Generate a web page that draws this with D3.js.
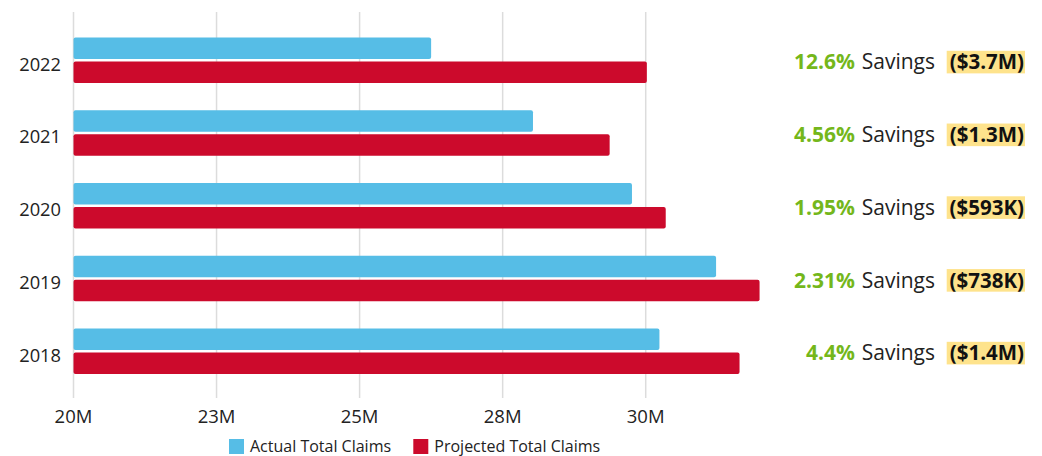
<!DOCTYPE html>
<html><head><meta charset="utf-8">
<script src="https://cdn.jsdelivr.net/npm/d3@7"></script>
<style>
html,body{margin:0;padding:0;background:#fff;}
svg{display:block;font-family:"Open Sans",sans-serif;}
</style></head>
<body><svg id="chart" width="1042" height="456"></svg>
<script>
const years = ["2022","2021","2020","2019","2018"];
const actual = [26.25, 28.03, 29.76, 31.23, 30.24];      // $M
const projected = [30.02, 29.37, 30.35, 31.99, 31.64];   // $M
const savingsPct = ["12.6%","4.56%","1.95%","2.31%","4.4%"];
const savingsAmt = ["($3.7M)","($1.3M)","($593K)","($738K)","($1.4M)"];
const tickValues = [20, 22.5, 25, 27.5, 30];
const tickLabels = ["20M","23M","25M","28M","30M"];
const seriesNames = ["Actual Total Claims","Projected Total Claims"];
const colors = ["#56bde6","#cc0a2c"];

const svg = d3.select("#chart");
const x = d3.scaleLinear().domain([20, 30]).range([73.5, 645.7]);
const y = d3.scaleBand().domain(years).range([23.9, 387.7]).paddingInner(0.375).paddingOuter(0.1875);
const sub = d3.scaleBand().domain([0,1]).range([0, y.bandwidth()]).paddingInner(0.1);

// gridlines
svg.append("g").selectAll("line").data(tickValues).join("line")
  .attr("x1", d => x(d)).attr("x2", d => x(d))
  .attr("y1", 12).attr("y2", 398)
  .attr("stroke", "#dcdcdc").attr("stroke-width", 1.5);

// tick labels
svg.append("g").selectAll("text").data(tickValues).join("text")
  .attr("x", d => x(d)).attr("y", 422.5)
  .attr("text-anchor", "middle").attr("font-size", 18.5).attr("fill", "#222")
  .text((d,i) => tickLabels[i]);

// year labels
svg.append("g").selectAll("text").data(years).join("text")
  .attr("x", 61).attr("y", d => y(d) + y.bandwidth()/2 + 10.3)
  .attr("text-anchor", "end").attr("font-size", 18.3).attr("fill", "#222")
  .text(d => d);

// bars
const groups = svg.append("g").selectAll("g").data(years).join("g")
  .attr("transform", d => `translate(0,${y(d)})`);
groups.append("rect")
  .attr("x", x(20)).attr("y", sub(0)).attr("height", sub.bandwidth())
  .attr("width", (d,i) => x(actual[i]) - x(20))
  .attr("rx", 2).attr("fill", colors[0]);
groups.append("rect")
  .attr("x", x(20)).attr("y", sub(1)).attr("height", sub.bandwidth())
  .attr("width", (d,i) => x(projected[i]) - x(20))
  .attr("rx", 2).attr("fill", colors[1]);

// savings annotations
const ann = svg.append("g").selectAll("g").data(years).join("g")
  .attr("transform", d => `translate(0,${y(d) + y.bandwidth()/2})`);
ann.append("rect")
  .attr("x", 946.7).attr("y", -9.5).attr("width", 78.3).attr("height", 22.6)
  .attr("fill", "#fee38c");
ann.append("text")
  .attr("x", 1024).attr("y", 9).attr("text-anchor", "end")
  .attr("font-size", 20.5).attr("font-weight", 700).attr("fill", "#111")
  .text((d,i) => savingsAmt[i]);
ann.append("text")
  .attr("x", 935).attr("y", 9).attr("text-anchor", "end")
  .attr("font-size", 21).attr("fill", "#222")
  .text("Savings");
ann.append("text")
  .attr("x", 855).attr("y", 9).attr("text-anchor", "end")
  .attr("font-size", 21).attr("font-weight", 700).attr("fill", "#74b71b")
  .text((d,i) => savingsPct[i]);

// legend
const leg = svg.append("g");
const legX = [229, 413.3];
seriesNames.forEach((n,i) => {
  leg.append("rect").attr("x", legX[i]).attr("y", 439).attr("width", 15).attr("height", 15).attr("fill", colors[i]);
  leg.append("text").attr("x", legX[i] + 21).attr("y", 451.5).attr("font-size", 16).attr("fill", "#222").text(n);
});
</script></body></html>
